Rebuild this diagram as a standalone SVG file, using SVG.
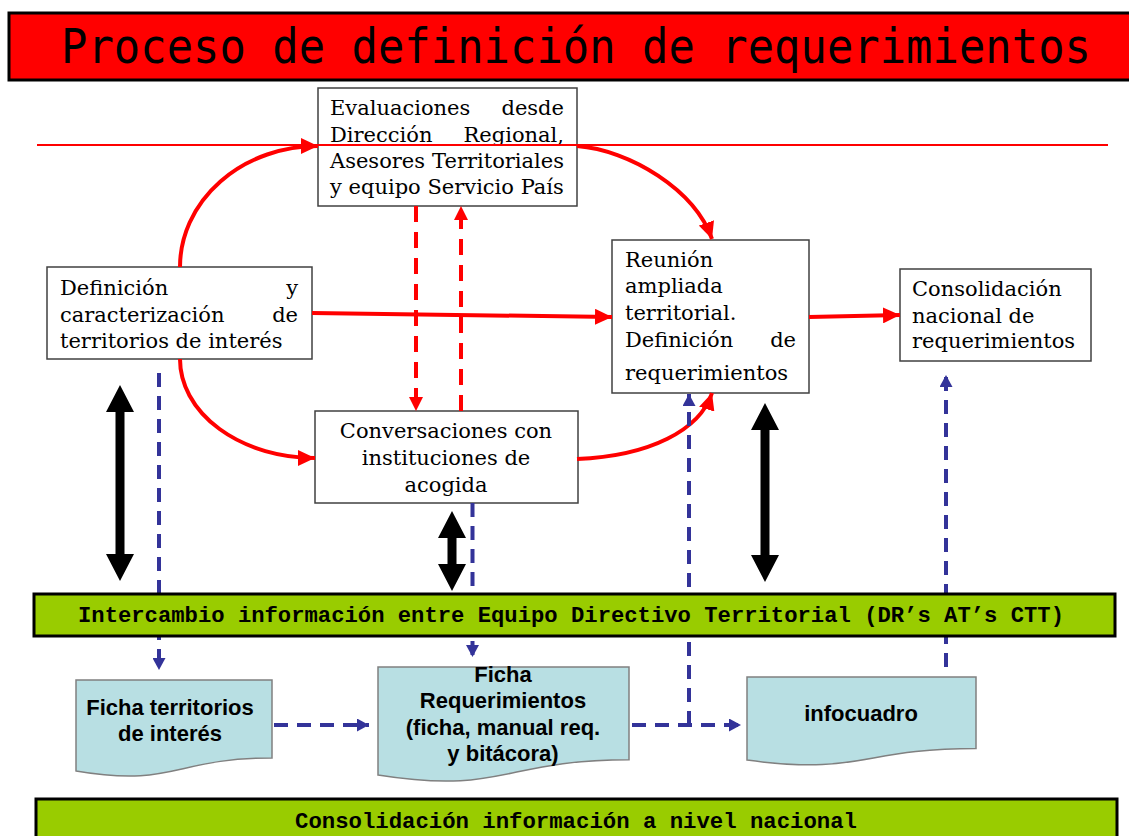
<svg xmlns="http://www.w3.org/2000/svg" width="1129" height="836" viewBox="0 0 1129 836">
<style>
.box{fill:#fff;stroke:#404040;stroke-width:1.5}
.st{font-family:"DejaVu Serif","Liberation Serif",serif;font-size:21px;fill:#000}
.doc{fill:#B8DFE3;stroke:#808080;stroke-width:1.5}
.dt{font-family:"Liberation Sans",Arial,sans-serif;font-weight:bold;font-size:22px;fill:#000;text-anchor:middle}
.bar{fill:#99CC00;stroke:#000;stroke-width:3}
.bt{font-family:"Liberation Mono","DejaVu Sans Mono",monospace;font-weight:bold;font-size:22px;fill:#000}
.red{fill:none;stroke:#FF0000;stroke-width:4}
.redd{fill:none;stroke:#FF0000;stroke-width:4;stroke-dasharray:16 10}
.blue{fill:none;stroke:#333399;stroke-width:4;stroke-dasharray:14 9}
.blk{fill:#000}
</style>
<defs>
<marker id="rh" markerUnits="userSpaceOnUse" markerWidth="18" markerHeight="16" refX="17" refY="8" orient="auto"><path d="M0,0 L17,8 L0,16 Z" fill="#FF0000"/></marker>
<marker id="rhs" markerUnits="userSpaceOnUse" markerWidth="15" markerHeight="14" refX="14" refY="7" orient="auto"><path d="M0,0 L14,7 L0,14 Z" fill="#FF0000"/></marker>
<marker id="bh" markerUnits="userSpaceOnUse" markerWidth="13" markerHeight="13" refX="12" refY="6.5" orient="auto"><path d="M0,0 L12,6.5 L0,13 Z" fill="#333399"/></marker>
</defs>

<g id="title">
<rect x="9" y="13" width="1125" height="67" fill="#FF0000" stroke="#000" stroke-width="3"/>
<text transform="translate(61,63) scale(1,1.1)" x="0" y="0" font-family="DejaVu Sans Mono,Liberation Mono,monospace" font-size="43" textLength="1030" lengthAdjust="spacingAndGlyphs" fill="#000">Proceso de definición de requerimientos</text>
</g>

<g id="node-evaluaciones">
<rect class="box" x="318" y="88" width="259" height="118"/>
<text class="st" x="330" y="115">Evaluaciones</text>
<text class="st" x="564" y="115" text-anchor="end">desde</text>
<text class="st" x="330" y="141.5">Dirección</text>
<text class="st" x="564" y="141.5" text-anchor="end">Regional,</text>
<text class="st" x="330" y="168">Asesores</text>
<text class="st" x="564" y="168" text-anchor="end">Territoriales</text>
<text class="st" x="330" y="194">y equipo Servicio País</text>
</g>

<g id="node-definicion">
<rect class="box" x="47" y="267" width="265" height="92"/>
<text class="st" x="60" y="295">Definición</text>
<text class="st" x="298" y="295" text-anchor="end">y</text>
<text class="st" x="60" y="321.5">caracterización</text>
<text class="st" x="298" y="321.5" text-anchor="end">de</text>
<text class="st" x="60" y="348">territorios de interés</text>
</g>

<g id="node-reunion">
<rect class="box" x="612" y="240" width="197" height="153"/>
<text class="st" x="625" y="267">Reunión</text>
<text class="st" x="625" y="293">ampliada</text>
<text class="st" x="625" y="320">territorial.</text>
<text class="st" x="625" y="346.5">Definición</text>
<text class="st" x="796" y="346.5" text-anchor="end">de</text>
<text class="st" x="625" y="380">requerimientos</text>
</g>

<g id="node-consolidacion">
<rect class="box" x="900" y="269" width="191" height="92"/>
<text class="st" x="912" y="296">Consolidación</text>
<text class="st" x="912" y="322.5">nacional de</text>
<text class="st" x="912" y="348">requerimientos</text>
</g>

<g id="node-conversaciones">
<rect class="box" x="315" y="411" width="263" height="92"/>
<text class="st" x="446" y="438" text-anchor="middle">Conversaciones con</text>
<text class="st" x="446" y="465" text-anchor="middle">instituciones de</text>
<text class="st" x="446" y="491.5" text-anchor="middle">acogida</text>
</g>

<g id="doc-ficha-territorios">
<path class="doc" d="M76,680 H272 V758 C174,758 174,787.7 76,770.9 Z"/>
<text class="dt" x="170" y="715">Ficha territorios</text>
<text class="dt" x="170" y="741">de interés</text>
</g>

<g id="doc-ficha-requerimientos">
<path class="doc" d="M378,667 H629 V759.7 C503.5,759.7 503.5,795 378,775 Z"/>
<text class="dt" x="503" y="682">Ficha</text>
<text class="dt" x="503" y="708">Requerimientos</text>
<text class="dt" x="503" y="735">(ficha, manual req.</text>
<text class="dt" x="503" y="761">y bitácora)</text>
</g>

<g id="doc-infocuadro">
<path class="doc" d="M747,677 H976 V748.4 C861.5,748.4 861.5,775.5 747,760.1 Z"/>
<text class="dt" x="861" y="721">infocuadro</text>
</g>

<g id="connectors">
<line x1="37" y1="145" x2="1108" y2="145" stroke="#FF0000" stroke-width="2"/>
<path class="red" d="M180,267 A138,121 0 0 1 318,146" marker-end="url(#rh)"/>
<path class="red" d="M577,146 C630,150 695,190 712,239" marker-end="url(#rh)"/>
<path class="red" d="M180,359 A135,99 0 0 0 315,458" marker-end="url(#rh)"/>
<path class="red" d="M577,459 C650,456 700,430 712,393" marker-end="url(#rh)"/>
<path class="red" d="M312,313 L612,317" marker-end="url(#rh)"/>
<path class="red" d="M809,317 L900,315" marker-end="url(#rh)"/>
<path class="redd" d="M416,206 V411" marker-end="url(#rhs)"/>
<path class="redd" d="M461,411 V206" marker-end="url(#rhs)"/>
<path class="blue" d="M159,373 V670" marker-end="url(#bh)"/>
<path class="blue" d="M472.5,503 V657" marker-end="url(#bh)"/>
<path class="blue" d="M274,725 H369" marker-end="url(#bh)"/>
<path class="blue" d="M632,725 H741" marker-end="url(#bh)"/>
<path class="blue" d="M689,725 V394" marker-end="url(#bh)"/>
<path class="blue" d="M946,667 V375" marker-end="url(#bh)"/>
<polygon class="blk" points="120,385 134,412 124.5,412 124.5,554 134,554 120,581 106,554 115.5,554 115.5,412 106,412"/>
<polygon class="blk" points="452,511 466,538 456.5,538 456.5,564 466,564 452,591 438,564 447.5,564 447.5,538 438,538"/>
<polygon class="blk" points="765,403 779,430 769.5,430 769.5,555 779,555 765,582 751,555 760.5,555 760.5,430 751,430"/>
</g>

<g id="bar-intercambio">
<rect class="bar" x="34" y="594" width="1081" height="42"/>
<text class="bt" x="78" y="622" textLength="986" lengthAdjust="spacingAndGlyphs">Intercambio información entre Equipo Directivo Territorial (DR’s AT’s CTT)</text>
</g>

<g id="bar-consolidacion">
<rect class="bar" x="36" y="799" width="1081" height="50"/>
<text class="bt" x="295" y="828" textLength="562" lengthAdjust="spacingAndGlyphs">Consolidación información a nivel nacional</text>
</g>
</svg>
